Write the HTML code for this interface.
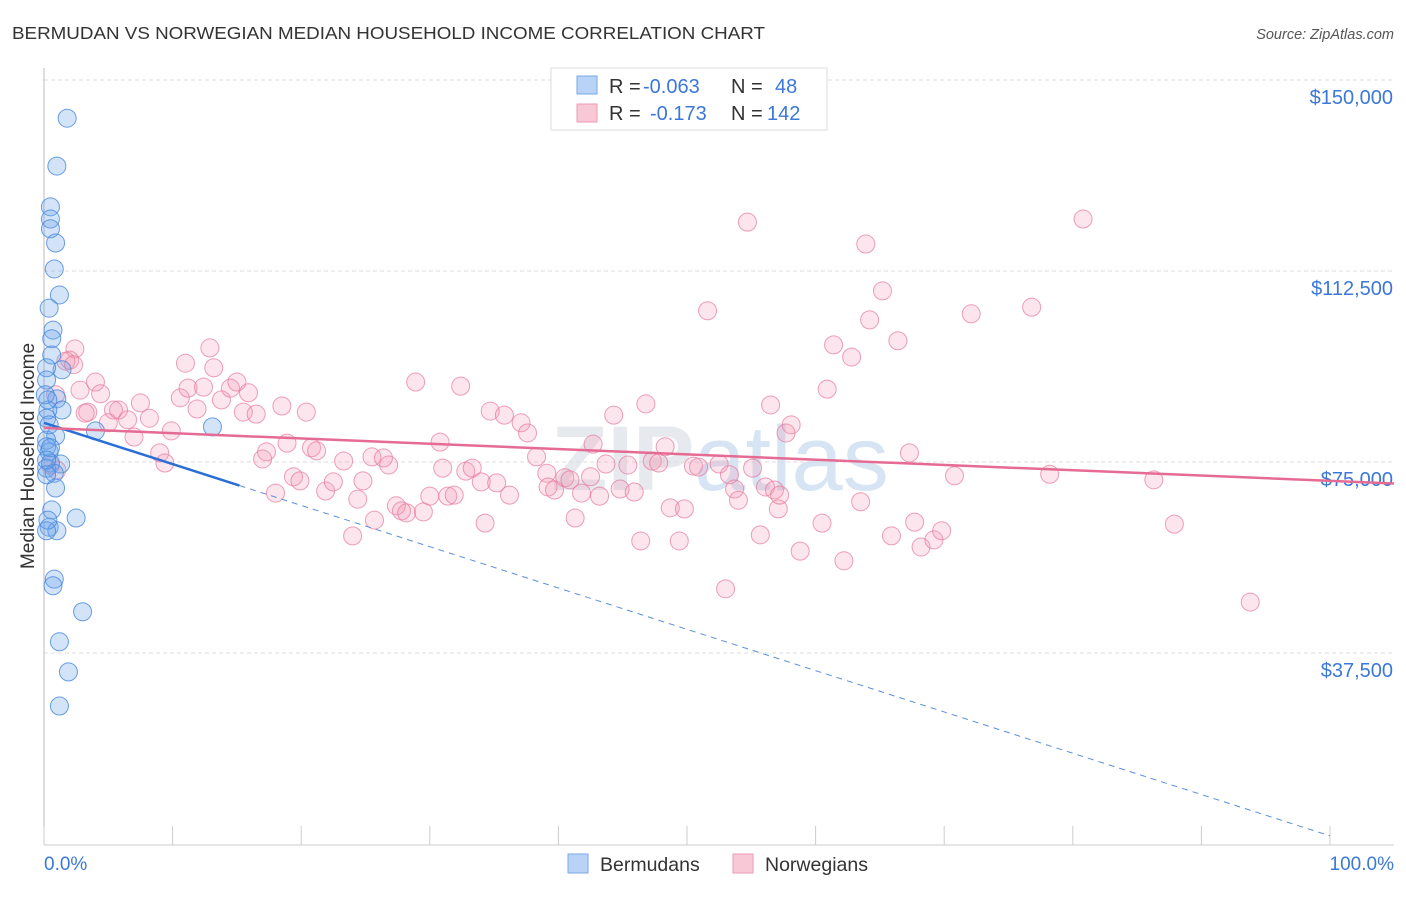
<!DOCTYPE html>
<html><head><meta charset="utf-8">
<style>
body{margin:0;background:#fff;font-family:"Liberation Sans",sans-serif;}
svg text{font-family:"Liberation Sans",sans-serif;}
</style></head>
<body>
<svg id="chart" width="1406" height="892">
<text x="12" y="39" font-size="17.5" fill="#333" textLength="753" lengthAdjust="spacingAndGlyphs">BERMUDAN VS NORWEGIAN MEDIAN HOUSEHOLD INCOME CORRELATION CHART</text>
<text x="1394" y="39" font-size="14.5" fill="#555" font-style="italic" text-anchor="end">Source: ZipAtlas.com</text>
<text x="720" y="490" font-size="92" font-weight="bold" fill="#e6e9ee" text-anchor="middle">ZIP<tspan font-weight="normal" fill="#d6e4f3">atlas</tspan></text>
<g id="grid"></g>
<g id="axes"></g>
<g id="pts"></g>
<g id="trends"></g>
<text transform="translate(34,456) rotate(-90)" font-size="19" fill="#333" text-anchor="middle">Median Household Income</text>
<text x="44" y="870" font-size="19" fill="#3b78d8">0.0%</text>
<text x="1394" y="870" font-size="19" fill="#3b78d8" text-anchor="end">100.0%</text>
<g>
<rect x="551" y="68" width="276" height="62" fill="#fff" stroke="#ddd"/>
<rect x="577" y="76" width="20" height="18" fill="#b8d3f5" stroke="#7aaae6"/>
<rect x="577" y="104" width="20" height="18" fill="#f8c8d6" stroke="#ee9ab4"/>
<text x="609" y="93" font-size="20" fill="#333">R = <tspan x="643" fill="#3b78d8">-0.063</tspan><tspan x="731">N = </tspan><tspan x="775" fill="#3b78d8">48</tspan></text>
<text x="609" y="120" font-size="20" fill="#333">R = <tspan x="650" fill="#3b78d8">-0.173</tspan><tspan x="731">N = </tspan><tspan x="767" fill="#3b78d8">142</tspan></text>
</g>
<g>
<rect x="568" y="854" width="20" height="19" fill="#b8d3f5" stroke="#7aaae6"/>
<text x="600" y="871" font-size="19.5" fill="#333">Bermudans</text>
<rect x="733" y="854" width="20" height="19" fill="#f8c8d6" stroke="#ee9ab4"/>
<text x="765" y="871" font-size="19.5" fill="#333">Norwegians</text>
</g>
</svg>
<script>
const yTicks=[37500,75000,112500,150000];
const yTickLabels=["$37,500","$75,000","$112,500","$150,000"];
const xTicks=[0,10,20,30,40,50,60,70,80,90,100];
const bermX=[1.8,1.0,0.5,0.5,0.5,0.9,0.8,1.2,0.4,0.7,0.6,0.6,1.4,0.2,1.0,1.4,0.3,4.0,13.1,0.9,0.2,0.4,0.5,0.2,1.3,0.8,0.9,0.6,2.5,0.4,1.0,0.2,0.8,0.7,3.0,1.2,1.9,1.2,0.2,0.1,0.3,0.2,0.4,0.2,0.5,0.2,0.2,0.3];
const bermY=[142.5,133.1,125.1,122.7,120.8,118.0,112.9,107.8,105.2,100.9,99.2,96.0,93.1,93.5,87.4,85.2,85.2,81.1,81.9,80.1,79.3,77.0,74.8,73.8,74.6,72.8,69.9,65.6,64.0,62.2,61.5,61.5,52.0,50.7,45.6,39.7,33.8,27.1,91.1,88.2,87.2,83.6,82.3,78.0,77.8,75.4,72.5,63.6];
const norX=[2.4,2.0,1.7,2.3,2.8,4.0,4.4,3.4,5.8,5.4,5.0,6.5,7.0,7.5,8.2,9.0,9.4,9.9,10.6,11.0,11.2,12.4,12.9,13.2,11.9,13.8,14.5,15.0,15.5,15.9,16.5,17.0,17.3,18.0,18.5,18.9,19.4,19.9,20.4,20.8,21.2,21.9,22.5,23.3,24.0,24.4,24.8,25.5,25.7,26.4,26.8,27.4,27.8,28.2,28.9,29.5,30.0,30.8,31.0,31.4,31.9,32.4,32.8,33.3,34.0,34.3,34.7,35.2,35.8,36.2,37.1,37.6,38.3,39.1,39.2,39.7,40.5,40.9,41.3,41.8,42.5,42.7,43.2,43.7,44.3,44.8,45.4,45.9,46.4,46.8,47.3,47.8,48.3,48.7,49.4,49.8,50.5,50.9,51.6,52.5,53.0,53.3,53.7,54.0,54.7,55.1,55.7,56.1,56.5,56.8,57.1,57.2,57.7,58.1,58.8,60.5,60.9,61.4,62.2,62.8,63.5,63.9,64.2,65.2,65.9,66.4,67.3,67.7,68.2,69.2,69.8,70.8,72.1,76.8,78.2,80.8,86.3,87.9,93.8,0.9,3.2,0.5,1.0];
const norY=[97.2,95.0,94.8,94.1,89.1,90.7,88.4,84.8,85.2,85.2,82.7,83.3,79.9,86.6,83.6,76.8,74.8,81.1,87.6,94.4,89.5,89.7,97.4,93.5,85.4,87.2,89.5,90.7,84.8,88.6,84.4,75.6,77.0,68.9,86.0,78.7,72.1,71.3,84.8,77.8,77.2,69.3,71.1,75.2,60.5,67.7,71.3,76.0,63.6,75.8,74.4,66.4,65.4,65.0,90.7,65.2,68.3,78.9,73.8,68.3,68.5,89.9,73.2,73.8,71.1,63.0,85.0,70.9,84.2,68.5,82.7,80.7,76.0,72.8,70.1,69.5,71.9,71.5,64.0,68.9,72.1,78.5,68.3,74.6,84.2,69.7,74.4,69.1,59.5,86.4,75.2,74.8,78.0,66.0,59.5,65.8,74.2,74.0,104.7,74.6,50.1,72.5,69.7,67.5,122.1,73.8,60.7,70.1,86.2,69.5,65.8,68.5,80.7,82.3,57.5,63.0,89.3,98.0,55.6,95.6,67.2,117.8,102.9,108.6,60.5,98.8,76.8,63.2,58.3,59.7,61.5,72.3,104.1,105.4,72.6,122.7,71.5,62.8,47.5,88.2,84.6,74.4,73.4];
const bermTrend=[82.7,1.6];
const bermSolidEnd=15.2;
const norTrend=[81.7,71.3];

const NS="http://www.w3.org/2000/svg";
const X0=44,X1=1330,Y0=844,YTOP=80;
const sx=p=>X0+p*(X1-X0)/100;
const sy=v=>Y0-v*(Y0-YTOP)/150000;
const syk=k=>sy(k*1000);
function mk(tag,attrs,parent){const e=document.createElementNS(NS,tag);for(const k in attrs)e.setAttribute(k,attrs[k]);parent.appendChild(e);return e;}
const grid=document.getElementById('grid'),axes=document.getElementById('axes'),pts=document.getElementById('pts'),tr=document.getElementById('trends');
yTicks.forEach((t,i)=>{
  const l=mk('line',{x1:X0,x2:1394,y1:sy(t),y2:sy(t),stroke:'#ddd','stroke-dasharray':'4,3'},grid);
  
  
  const tx=mk('text',{x:1393,y:sy(t)+24,'font-size':20,fill:'#3b78d8','text-anchor':'end'},grid);
  tx.textContent=yTickLabels[i];
  
  
});
const ax=mk('line',{x1:X0,x2:1394,y1:845,y2:845,stroke:'#ccc'},axes);


const ay=mk('line',{x1:X0,x2:X0,y1:68,y2:845,stroke:'#bbb'},axes);


xTicks.forEach(t=>{
  const l=mk('line',{x1:sx(t),x2:sx(t),y1:826,y2:845,stroke:'#ccc'},axes);
  
  
});
norX.forEach((x,i)=>{
  const c=mk('circle',{cx:sx(x),cy:syk(norY[i]),r:9,fill:'rgba(242,150,180,0.25)',stroke:'rgba(230,120,155,0.7)','stroke-width':1},pts);
  
  
});
bermX.forEach((x,i)=>{
  const c=mk('circle',{cx:sx(x),cy:syk(bermY[i]),r:9,fill:'rgba(110,165,235,0.3)',stroke:'rgba(70,135,220,0.8)','stroke-width':1},pts);
  
  
});
const bv=p=>bermTrend[0]+(bermTrend[1]-bermTrend[0])*p/100;
const b1=mk('line',{x1:sx(0),y1:syk(bv(0)),x2:sx(bermSolidEnd),y2:syk(bv(bermSolidEnd)),stroke:'#2a6fd6','stroke-width':2.5},tr);


const b2=mk('line',{x1:sx(bermSolidEnd),y1:syk(bv(bermSolidEnd)),x2:sx(100),y2:syk(bv(100)),stroke:'#5b8fd9','stroke-width':1,'stroke-dasharray':'6,5'},tr);


const nv=p=>norTrend[0]+(norTrend[1]-norTrend[0])*p/100;
const n1=mk('line',{x1:sx(0),y1:syk(nv(0)),x2:1394,y2:syk(nv((1394-X0)/(X1-X0)*100)),stroke:'#e56b93','stroke-width':2.5},tr);


</script>
</body></html>
